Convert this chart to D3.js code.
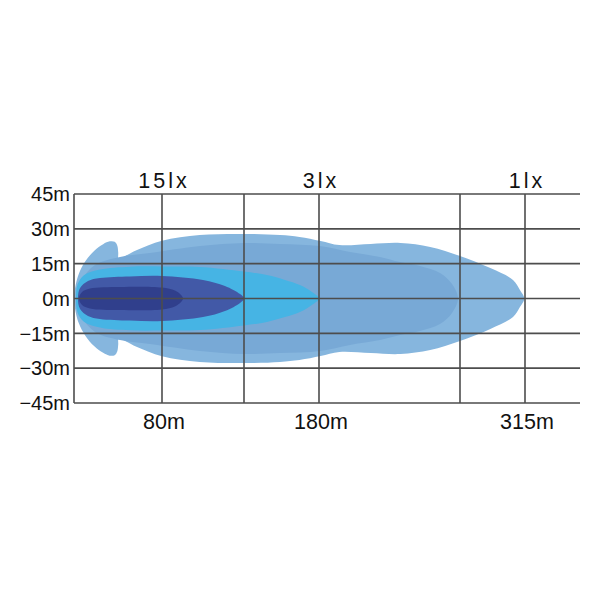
<!DOCTYPE html>
<html>
<head>
<meta charset="utf-8">
<script src="https://cdn.jsdelivr.net/npm/d3@7"></script>
<style>
  html, body { margin: 0; padding: 0; background: #fff; }
  svg text { font-family: "Liberation Sans", Arial, sans-serif; fill: #111; }
</style>
</head>
<body>
<svg id="chart" width="600" height="600"></svg>
<script>
// ---- data ----
// distance breakpoints (m) used by the diagram's non-uniform horizontal axis
const distanceBreaks = [0, 80, 130, 180, 270, 315, 350];
// vertical grid lines (m)
const gridDistances = [0, 80, 130, 180, 270, 315];
// labelled distances
const distanceLabels = [80, 180, 315];
const distanceLabelText = ["80m", "180m", "315m"];
// illuminance labels at those distances
const luxLabelText = ["15lx", "3lx", "1lx"];
// lateral ticks (m)
const widthTicks = [45, 30, 15, 0, -15, -30, -45];
const widthTickText = ["45m", "30m", "15m", "0m", "\u221215m", "\u221230m", "\u221245m"];

// beam outlines: [distance m, half width m] (upper half, mirrored below)
const outerBeam = [[0,0],[1.6,6.0],[4.5,10.8],[10,15.8],[18.5,20.6],[26.5,23.4],[32.5,24.6],[37,24.4],[39.3,22.8],[40.2,19.8],[40.6,17.0],
  [46.4,18.3],[57.3,20.9],[80,24.9],[103,27.3],[130,27.8],[154,27.3],[167,26.5],[181,24.8],[193,23.0],[213,23.5],[232,23.9],
  [251,22.2],[270,18.3],[291,13.1],[306.7,8.0],[311.5,3.7],[314.5,0]];
const midBeam = [[3.6,0],[7.3,8.0],[19.1,14.4],[41.8,17.9],[69.1,19.6],[103.2,22.6],[130,23.9],[154,23.5],[180.6,22.6],
  [199.8,20.0],[218.9,17.9],[231.7,15.7],[244.5,14.0],[257.2,11.0],[264.9,6.2],[268.7,0]];
const cyanBeam = [[1.8,0],[3.2,6.0],[9,10.0],[23.6,12.5],[50.9,13.7],[80,13.8],[103.2,13.6],[130,11.6],[145.3,10.1],
  [157.3,8.0],[167.3,5.8],[175.3,2.8],[180,0]];
const darkBeam = [[3.6,0],[5.5,4.5],[12.7,7.5],[23.6,8.8],[50.9,9.5],[80,9.7],[105,8.0],[118.4,5.4],[127.6,1.9],[130,0]];
const deepBeam = [[4.5,0],[7.3,2.8],[14.5,4.3],[41.8,5.0],[80,4.7],[87.9,3.4],[91.6,1.5],[92.8,0]];

const beams = [
  {pts: outerBeam, color: "#86b6de"},
  {pts: midBeam,   color: "#78a9d6"},
  {pts: cyanBeam,  color: "#46b4e4"},
  {pts: darkBeam,  color: "#4259a7"},
  {pts: deepBeam,  color: "#303f8c"}
];

// ---- scales ----
const svg = d3.select("#chart");
const x = d3.scaleLinear().domain(distanceBreaks).range([74, 162, 244, 319, 460, 525, 580]);
const y = d3.scaleLinear().domain([45, -45]).range([194, 403]);

const line = d3.line()
  .x(d => x(d[0])).y(d => y(d[1]))
  .curve(d3.curveCatmullRomClosed.alpha(0.5));

function outline(pts) {
  const lower = pts.slice(1, -1).reverse().map(([d, w]) => [d, -w]);
  return pts.concat(lower);
}

svg.append("g").selectAll("path").data(beams).join("path")
  .attr("d", b => line(outline(b.pts)))
  .attr("fill", b => b.color);

// ---- grid ----
const grid = svg.append("g").attr("stroke", "#4d4d4d").attr("stroke-width", 1.6);
grid.selectAll("line.h").data(widthTicks).join("line").attr("class", "h")
  .attr("x1", x(0)).attr("x2", x(350))
  .attr("y1", d => y(d)).attr("y2", d => y(d));
grid.selectAll("line.v").data(gridDistances).join("line").attr("class", "v")
  .attr("x1", d => x(d)).attr("x2", d => x(d))
  .attr("y1", y(45)).attr("y2", y(-45));

// ---- labels ----
svg.append("g").selectAll("text").data(widthTicks).join("text")
  .attr("x", 70).attr("y", d => y(d)).attr("dy", "0.36em")
  .attr("text-anchor", "end").attr("font-size", 20)
  .text((d, i) => widthTickText[i]);

svg.append("g").selectAll("text").data(distanceLabels).join("text")
  .attr("x", d => x(d) + 2).attr("y", 429)
  .attr("text-anchor", "middle").attr("font-size", 21.5)
  .text((d, i) => distanceLabelText[i]);

svg.append("g").selectAll("text").data(distanceLabels).join("text")
  .attr("x", d => x(d) + 2).attr("y", 188)
  .attr("text-anchor", "middle").attr("font-size", 21.5)
  .attr("letter-spacing", 3)
  .text((d, i) => luxLabelText[i]);
</script>
</body>
</html>
